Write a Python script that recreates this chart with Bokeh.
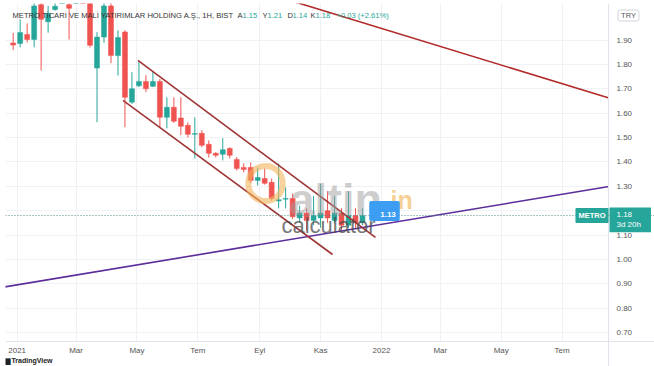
from datetime import datetime, timedelta
from bokeh.plotting import figure
from bokeh.models import (Range1d, FixedTicker, Label, Span, ColumnDataSource, PrintfTickFormatter,
                          LinearAxis, BoxAnnotation)
from bokeh.embed import file_html
from bokeh.resources import INLINE

# ---------------- data (weekly candles, METRO / BIST) ----------------
first_week = datetime(2020, 12, 28)
opens  = [1.888, 1.886, 1.923, 1.902, 2.045, 1.975, 2.025, 2.060, 2.045, 2.060, 2.090, 2.070,
          1.785, 1.912, 2.040, 1.836, 1.933, 1.645, 1.712, 1.730, 1.710, 1.730, 1.583, 1.624,
          1.580, 1.550, 1.513, 1.517, 1.472, 1.435, 1.431, 1.455, 1.410, 1.377, 1.377, 1.324,
          1.332, 1.316, 1.240, 1.247, 1.250, 1.170, 1.190, 1.160, 1.170, 1.200, 1.160, 1.190,
          1.140, 1.180, 1.150]
highs  = [1.929, 1.985, 1.968, 2.080, 2.100, 2.040, 2.060, 2.120, 2.060, 2.120, 2.130, 2.100,
          1.932, 2.070, 2.070, 1.940, 1.940, 1.768, 1.810, 1.756, 1.768, 1.740, 1.665, 1.665,
          1.665, 1.562, 1.583, 1.530, 1.488, 1.440, 1.497, 1.460, 1.420, 1.394, 1.398, 1.377,
          1.373, 1.332, 1.394, 1.295, 1.270, 1.220, 1.210, 1.260, 1.310, 1.280, 1.260, 1.210,
          1.280, 1.210, 1.210]
lows   = [1.859, 1.870, 1.890, 1.870, 1.775, 1.930, 2.020, 2.055, 1.902, 2.050, 2.050, 1.869,
          1.563, 1.888, 1.805, 1.754, 1.542, 1.638, 1.707, 1.686, 1.707, 1.542, 1.538, 1.560,
          1.510, 1.500, 1.414, 1.460, 1.418, 1.418, 1.406, 1.414, 1.365, 1.357, 1.312, 1.303,
          1.307, 1.241, 1.209, 1.209, 1.165, 1.150, 1.120, 1.140, 1.130, 1.150, 1.150, 1.120,
          1.130, 1.130, 1.140]
closes = [1.879, 1.931, 1.902, 2.040, 1.985, 2.010, 2.038, 2.100, 2.030, 2.090, 2.070, 1.878,
          1.912, 2.040, 1.836, 1.910, 1.665, 1.700, 1.730, 1.700, 1.730, 1.583, 1.624, 1.567,
          1.546, 1.513, 1.516, 1.468, 1.435, 1.427, 1.450, 1.427, 1.373, 1.369, 1.324, 1.336,
          1.312, 1.250, 1.245, 1.250, 1.175, 1.190, 1.160, 1.180, 1.190, 1.170, 1.190, 1.140,
          1.180, 1.150, 1.180]
week_dates = [first_week + timedelta(days=7 * i) for i in range(len(opens))]

# drawings (anchor dates / prices)
channel_upper_dates  = [datetime(2021, 5, 2), datetime(2021, 12, 26)]
channel_upper_prices = [1.816, 1.090]
channel_lower_dates  = [datetime(2021, 4, 17), datetime(2021, 11, 13)]
channel_lower_prices = [1.652, 1.020]
resistance_dates  = [datetime(2021, 6, 1), datetime(2022, 8, 17)]
resistance_prices = [2.2155, 1.662]
support_dates  = [datetime(2020, 12, 1), datetime(2022, 8, 17)]
support_prices = [0.8744, 1.299]
last_price = 1.18

x_tick_dates  = [datetime(2021, 1, 1), datetime(2021, 3, 1), datetime(2021, 5, 1), datetime(2021, 7, 1),
                 datetime(2021, 9, 1), datetime(2021, 11, 1), datetime(2022, 1, 1), datetime(2022, 3, 1),
                 datetime(2022, 5, 1), datetime(2022, 7, 1)]
x_tick_labels = ["2021", "Mar", "May", "Tem", "Eyl", "Kas", "2022", "Mar", "May", "Tem"]
y_ticks = [0.70, 0.80, 0.90, 1.00, 1.10, 1.20, 1.30, 1.40, 1.50, 1.60, 1.70, 1.80, 1.90]

# ---------------- layout geometry ----------------
DAY = 86400000.0
PX_PER_DAY = 0.998
PX_PER_UNIT = 243.75
def ms(d):
    return (d - datetime(1970, 1, 1)).total_seconds() * 1000.0

W, H = 654, 366
FL, FT = 5, 3            # frame left / top on the canvas; frame runs to the canvas right/bottom
SCALE_X = 608            # canvas x of the price-scale separator
TIME_Y = 341             # canvas y of the time-scale separator

def price_at(cy):        # canvas y -> price
    return 1.90 - (cy - 39.5) / PX_PER_UNIT

x_start = ms(first_week) - 7.7 * DAY
x_end = x_start + (W - FL) / PX_PER_DAY * DAY
scale_loc = x_start + (SCALE_X - FL) / PX_PER_DAY * DAY
y_start, y_end = price_at(H), price_at(FT)
time_loc = price_at(TIME_Y)

GREEN = "#26a69a"
RED = "#ef5350"
FONT = "Liberation Sans"

p = figure(width=W, height=H, x_axis_type="datetime", y_axis_location=None,
           output_backend="svg", toolbar_location=None,
           x_range=Range1d(x_start, x_end), y_range=Range1d(y_start, y_end),
           min_border_left=FL, min_border_right=0, min_border_top=FT, min_border_bottom=0)
p.outline_line_color = None
p.background_fill_color = "white"
p.border_fill_color = "white"

# grid
tick_ms = [ms(d) for d in x_tick_dates]
p.xgrid.ticker = FixedTicker(ticks=tick_ms)
p.ygrid.ticker = FixedTicker(ticks=y_ticks)
p.xgrid.grid_line_color = "#eff1f5"
p.ygrid.grid_line_color = "#eff1f5"
# blank price-scale and time-scale strips (cover the grid there)
p.add_layout(BoxAnnotation(left=scale_loc, fill_color="white", fill_alpha=1.0, line_color=None,
                           level="underlay"))
p.add_layout(BoxAnnotation(top=time_loc, fill_color="white", fill_alpha=1.0, line_color=None,
                           level="underlay"))

# time axis, drawn at the separator inside the frame
xa = p.xaxis[0]
xa.fixed_location = time_loc
xa.ticker = FixedTicker(ticks=tick_ms)
xa.major_label_overrides = {t: lab for t, lab in zip(tick_ms, x_tick_labels)}
xa.major_tick_line_color = None
xa.minor_tick_line_color = None
xa.major_tick_out = 0
xa.minor_tick_out = 0
xa.axis_line_color = "#e0e3eb"
xa.major_label_text_font = FONT
xa.major_label_text_font_size = "8px"
xa.major_label_text_color = "#555555"
xa.major_label_standoff = 4

# price axis, drawn at the separator inside the frame
ya = LinearAxis(ticker=FixedTicker(ticks=y_ticks), formatter=PrintfTickFormatter(format="%.2f"),
                fixed_location=scale_loc)
ya.major_tick_line_color = None
ya.minor_tick_line_color = None
ya.major_tick_out = 0
ya.minor_tick_out = 0
ya.axis_line_color = "#e0e3eb"
ya.major_label_text_font = FONT
ya.major_label_text_font_size = "8px"
ya.major_label_text_color = "#555555"
ya.major_label_standoff = 8
p.add_layout(ya, "right")

# candles
cols = [GREEN if c >= o else RED for o, c in zip(opens, closes)]
src = ColumnDataSource(dict(x=week_dates, o=opens, h=highs, l=lows, c=closes,
                            top=[max(o, c) for o, c in zip(opens, closes)],
                            bot=[min(o, c) for o, c in zip(opens, closes)],
                            color=cols))
p.segment(x0="x", y0="h", x1="x", y1="l", color="color", line_width=1, source=src)
p.vbar(x="x", top="top", bottom="bot", width=5 * DAY, fill_color="color", line_color="color",
       line_width=0.5, source=src)

# drawings
p.line(resistance_dates, resistance_prices, line_color="#b22a2a", line_width=1.6)
p.line(support_dates, support_prices, line_color="#5b2c9a", line_width=1.6)
p.line(channel_upper_dates, channel_upper_prices, line_color="#a03535", line_width=1.6)
p.line(channel_lower_dates, channel_lower_prices, line_color="#a03535", line_width=1.6)

p.add_layout(Span(location=last_price, dimension="width", line_color="#4f8c86",
                  line_dash="1 2", line_width=1))

# ---------------- annotations (canvas px -> frame screen units) ----------------
def sx(cx):
    return cx - FL
def sy(cy):
    return H - cy

# watermark
p.add_layout(Label(x=sx(265), y=sy(183), x_units="screen", y_units="screen", text=" ",
                   text_font_size="1px", text_align="center", text_baseline="middle",
                   padding=17, border_radius=20, border_line_color="#f2b45a",
                   border_line_width=6, border_line_alpha=0.6))
p.add_layout(Label(x=sx(289), y=sy(199), x_units="screen", y_units="screen", text="altin",
                   text_font=FONT, text_font_style="bold", text_font_size="45px",
                   text_color="#9e9e9e", text_alpha=0.5, text_baseline="alphabetic"))
p.add_layout(Label(x=sx(383), y=sy(199), x_units="screen", y_units="screen", text=".in",
                   text_font=FONT, text_font_style="bold", text_font_size="25px",
                   text_color="#f0a838", text_alpha=0.55, text_baseline="alphabetic"))
p.add_layout(Label(x=sx(281), y=sy(225), x_units="screen", y_units="screen", text="calculator",
                   text_font=FONT, text_font_size="22px",
                   text_color="#4a4a4a", text_alpha=0.75, text_baseline="alphabetic"))

# title line
title_parts = [("METRO TİCARİ VE MALİ YATIRIMLAR HOLDİNG A.Ş., 1H, BIST", 12, "#333333"),
               ("A", 237, "#333333"), ("1.15", 242, GREEN),
               ("Y", 262, "#333333"), ("1.21", 267, GREEN),
               ("D", 287, "#333333"), ("1.14", 292, GREEN),
               ("K", 310, "#333333"), ("1.18", 315, GREEN),
               ("+0.03 (+2.61%)", 336, GREEN)]
for txt, cx, col in title_parts:
    p.add_layout(Label(x=sx(cx), y=sy(15), x_units="screen", y_units="screen", text=txt,
                       text_font=FONT, text_font_size="7.6px", text_color=col,
                       text_baseline="middle"))

# price tags
p.add_layout(Label(x=sx(384), y=sy(210.5), x_units="screen", y_units="screen", text="1.13",
                   text_font=FONT, text_font_size="8px", text_font_style="bold", text_color="white",
                   text_align="center", text_baseline="middle", background_fill_color="#3d9df2",
                   padding=[11, 4, 11, 4], border_radius=2))
p.add_layout(Label(x=sx(591.5), y=sy(215), x_units="screen", y_units="screen", text="METRO",
                   text_font=FONT, text_font_size="7.5px", text_font_style="bold", text_color="white",
                   text_align="center", text_baseline="middle", background_fill_color=GREEN,
                   padding=[3, 3, 3, 3], border_radius=1))
p.add_layout(Label(x=sx(609), y=sy(207), x_units="screen", y_units="screen", text="1.18\n3d 20h",
                   text_font=FONT, text_font_size="8px", text_color="white",
                   text_align="left", text_baseline="top", background_fill_color=GREEN,
                   padding=[7, 10, 2, 3]))
p.add_layout(Label(x=sx(628), y=sy(15), x_units="screen", y_units="screen", text="TRY",
                   text_font=FONT, text_font_size="7.5px", text_color="#555555",
                   text_align="center", text_baseline="middle", border_line_color="#d1d4dc",
                   padding=[3, 3, 1, 1], border_radius=2))
p.add_layout(Label(x=sx(4), y=sy(360), x_units="screen", y_units="screen", text="▆ TradingView",
                   text_font=FONT, text_font_size="7px", text_font_style="bold",
                   text_color="#222222", text_baseline="middle"))

open("out.html", "w").write(file_html(p, INLINE))
